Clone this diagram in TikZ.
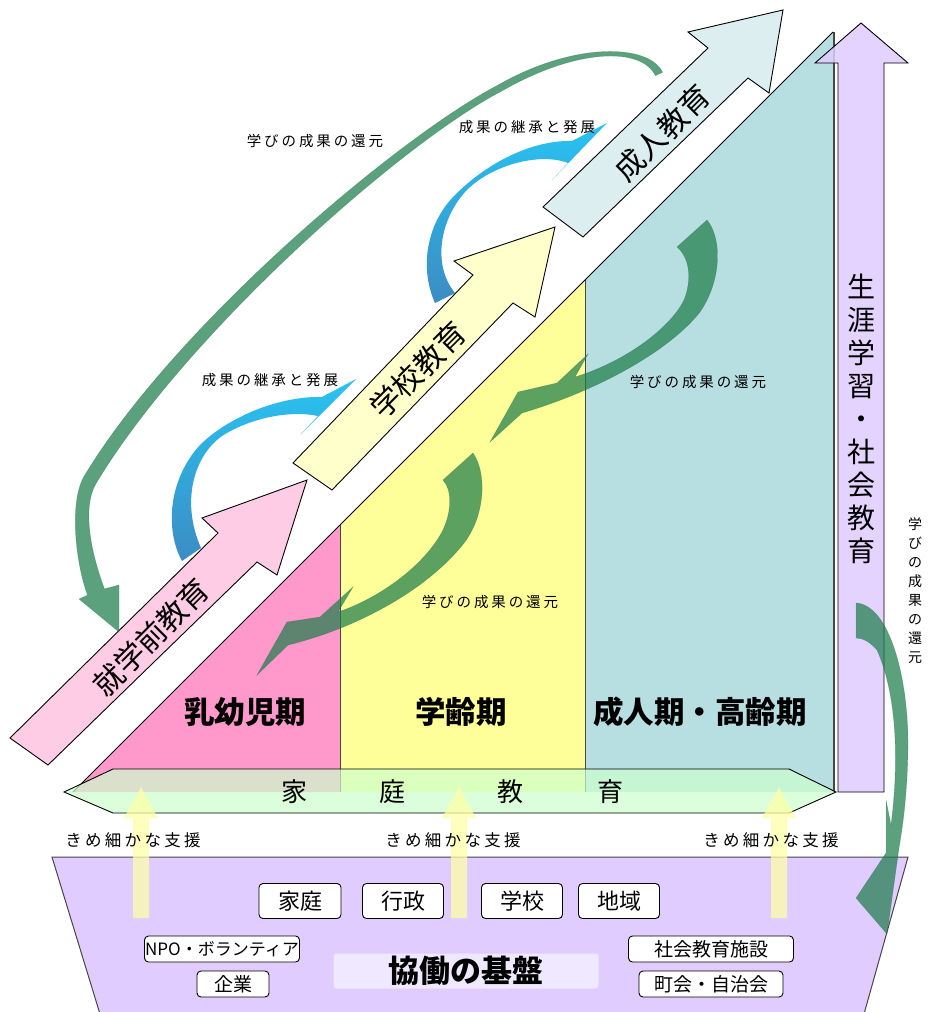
\documentclass[tikz,border=0pt]{standalone}
\usepackage{fontspec}
\setmainfont{Noto Sans CJK JP}
\newfontfamily\jp{Noto Sans CJK JP}
\newfontfamily\jpls{Noto Sans CJK JP}[LetterSpace=20]
\newcommand\fs[2]{\fontsize{#1}{#2}\selectfont}
\definecolor{pinkA}{RGB}{255,153,204}
\definecolor{yelA}{RGB}{255,255,153}
\definecolor{tealA}{RGB}{183,222,225}
\definecolor{pinkArr}{RGB}{255,204,229}
\definecolor{yelArr}{RGB}{255,255,204}
\definecolor{tealArr}{RGB}{220,238,240}
\definecolor{lav}{RGB}{224,204,255}
\definecolor{lavL}{RGB}{240,232,255}
\definecolor{bandG}{RGB}{204,255,204}
\definecolor{grn}{RGB}{30,125,75}
\definecolor{cyanA}{RGB}{40,195,242}
\definecolor{blueA}{RGB}{60,140,195}
\definecolor{edgeG}{RGB}{70,70,70}
\tikzset{
  diagarrow/.style={draw=black, line width=0.9},
  grnarrow/.style={fill=grn, fill opacity=0.72, draw=grn!80!black, draw opacity=0.35, line width=0.4},
  bluearrow/.style={top color=cyanA, bottom color=blueA, draw=none},
  upyel/.style={fill=yelA!85!white, fill opacity=0.75, draw=none},
  lbl/.style={font=\jpls\fs{14.5}{17}, inner sep=0},
  period/.style={font=\jp\bfseries\fs{30.5}{34}, inner sep=0},
  diagtxt/.style={font=\jp\fs{30}{34}, rotate=45, inner sep=0},
  box/.style={draw=black, fill=white, rounded corners=4pt, line width=0.9, inner sep=0},
  support/.style={font=\jpls\fs{16.5}{19}, inner sep=0}
}
\begin{document}
\begin{tikzpicture}[x=1pt,y=-1pt]
\useasboundingbox (0,0) rectangle (928,1012);
\fill[white] (0,0) rectangle (928,1012);

% life-stage triangle
\fill[pinkA] (73,792) -- (340,525) -- (340,792) -- cycle;
\fill[yelA] (340,525) -- (585,280) -- (585,792) -- (340,792) -- cycle;
\fill[tealA] (585,280) -- (833,32) -- (833,792) -- (585,792) -- cycle;
\draw[edgeG, line width=1] (340,525) -- (340,792);
\draw[edgeG, line width=1] (585,280) -- (585,792);
\draw[edgeG, line width=2] (834,32) -- (834,792);
\draw[black, line width=1] (73,792) -- (833,32);

% family education band
\path[fill=bandG, fill opacity=0.7, draw=black, line width=0.9]
  (64,792) -- (113,769) -- (789,769) -- (836,792) -- (789,813) -- (113,813) -- cycle;

% lifelong learning arrow
\path[fill=lav, fill opacity=0.85, draw=black, line width=0.9]
  (838,792) -- (838,63) -- (815,63) -- (861,23) -- (908,63) -- (884,63) -- (884,792) -- cycle;

% foundation trapezoid
\path[fill=lav, draw=edgeG, line width=1] (52,857) -- (908,857) -- (864,1014) -- (100,1014) -- cycle;

% support arrows
\foreach \x in {141,459,779}{
  \fill[upyel] (\x-8,918) -- (\x-8,818) -- (\x-17,818) -- (\x,787) -- (\x+17,818) -- (\x+8,818) -- (\x+8,918) -- cycle;
}

% blue arrows
\path[bluearrow] (182,561) .. controls (165,530) and (168,480) .. (200,445)
  .. controls (225,420) and (275,396) .. (322,397) -- (356,379) -- (301,434) -- (318,416)
  .. controls (290,410) and (250,418) .. (222,436) .. controls (195,455) and (180,500) .. (201,548) -- cycle;
\path[bluearrow] (435,303) .. controls (420,270) and (425,225) .. (455,195)
  .. controls (490,160) and (535,140) .. (572,141) -- (607,123) -- (552,180) -- (568,163)
  .. controls (540,152) and (490,165) .. (465,192) .. controls (440,220) and (432,265) .. (455,293) -- cycle;

% diagonal arrows
\path[diagarrow, fill=pinkArr] (10,738) -- (218,533) -- (202,518) -- (307,480) -- (277,575) -- (257,562) -- (48,765) -- cycle;
\path[diagarrow, fill=yelArr] (293,463) -- (473,275) -- (454,261) -- (555,227) -- (535,317) -- (513,303) -- (332,490) -- cycle;
\path[diagarrow, fill=tealArr] (543,207) -- (708,48) -- (688,32) -- (783,10) -- (769,93) -- (748,78) -- (583,237) -- cycle;
\node[diagtxt] (pre) at (151,637) {就学前教育};
\node[diagtxt] (sch) at (418,370) {学校教育};
\node[diagtxt] (adu) at (662,133) {成人教育};

% green return arrows
\path[grnarrow] (662.6,72.3) .. controls (648.6,43.3) and (573.25,41.95) .. (498.25,84.95)
  .. controls (398.25,136.95) and (173.98,326.43) .. (83.98,476.43)
  .. controls (68.98,502.43) and (75.54,563.15) .. (87.54,595.15)
  -- (79,599) -- (119,632) -- (119,585) -- (104.46,588.85)
  .. controls (92.46,556.85) and (81.02,509.57) .. (96.02,483.57)
  .. controls (186.02,333.57) and (401.75,143.05) .. (501.75,91.05)
  .. controls (576.75,48.05) and (641.4,46.7) .. (655.4,75.7) -- cycle;
\path[grnarrow] (677,247) -- (707,220) .. controls (722,238) and (722,280) .. (700,312)
  .. controls (670,350) and (600,390) .. (522,413) -- (490,442) -- (518,392) -- (557,383) -- (588,354) -- (575,377)
  .. controls (630,360) and (672,325) .. (684,300) .. controls (692,280) and (690,258) .. (677,247) -- cycle;
\path[grnarrow] (443,480) -- (473,453) .. controls (488,475) and (485,520) .. (460,548)
  .. controls (420,595) and (350,630) .. (288,645) -- (257,675) -- (287,622) -- (320,617) -- (353,587) -- (338,612)
  .. controls (380,598) and (425,565) .. (443,530) .. controls (452,510) and (452,490) .. (443,480) -- cycle;
\path[grnarrow] (856,603) .. controls (890,605) and (909,680) .. (908,750)
  .. controls (907,800) and (902,830) .. (899,848) -- (887,934) -- (856,898) -- (886,853) -- (886,800) -- (891,825)
  .. controls (898,770) and (899,700) .. (877,650) .. controls (870,642) and (863,638) .. (856,638) -- cycle;

% labels
\node[lbl] (l1) at (315,141) {学びの成果の還元};
\node[lbl] (l2) at (527,127) {成果の継承と発展};
\node[lbl] (l3) at (270,380) {成果の継承と発展};
\node[lbl] (l4) at (698,382) {学びの成果の還元};
\node[lbl] (l5) at (490,602) {学びの成果の還元};
\node[font=\jp\fs{14}{19}, align=center, inner sep=0] (l6) at (915,591) {学\\び\\の\\成\\果\\の\\還\\元};

\node[period] (p1) at (245,712) {乳幼児期};
\node[period] (p2) at (461,712) {学齢期};
\node[period] (p3) at (700,712) {成人期・高齢期};

\node[font=\jp\fs{28}{33}, align=center, inner sep=0] (sg) at (861,419) {生\\涯\\学\\習\\・\\社\\会\\教\\育};

\foreach \c/\x/\n in {家/294/k1,庭/392/k2,教/510/k3,育/610/k4}{
  \node[font=\jp\fs{26}{30}, inner sep=0] (\n) at (\x,792) {\c};
}

\node[support] (s1) at (133,840) {きめ細かな支援};
\node[support] (s2) at (453,840) {きめ細かな支援};
\node[support] (s3) at (771,840) {きめ細かな支援};

\node[box, minimum width=82, minimum height=35, font=\jp\fs{22}{24}] (b1) at (300,901) {家庭};
\node[box, minimum width=81, minimum height=35, font=\jp\fs{22}{24}] (b2) at (403,901) {行政};
\node[box, minimum width=81, minimum height=35, font=\jp\fs{22}{24}] (b3) at (522,901) {学校};
\node[box, minimum width=81, minimum height=35, font=\jp\fs{22}{24}] (b4) at (619,901) {地域};
\node[box, minimum width=155, minimum height=26, font=\jp\fs{17}{19}] (b5) at (222,949) {NPO・ボランティア};
\node[box, minimum width=72, minimum height=26, font=\jp\fs{19}{21}] (b6) at (233,984) {企業};
\node[box, minimum width=165, minimum height=26, font=\jp\fs{19}{21}] (b7) at (711,949) {社会教育施設};
\node[box, minimum width=144, minimum height=26, font=\jp\fs{19}{21}] (b8) at (711,984) {町会・自治会};
\node[fill=lavL, rounded corners=3pt, minimum width=265, minimum height=35, inner sep=0, font=\jp\bfseries\fs{31}{34}] (kb) at (466,971) {協働の基盤};
\end{tikzpicture}
\end{document}
